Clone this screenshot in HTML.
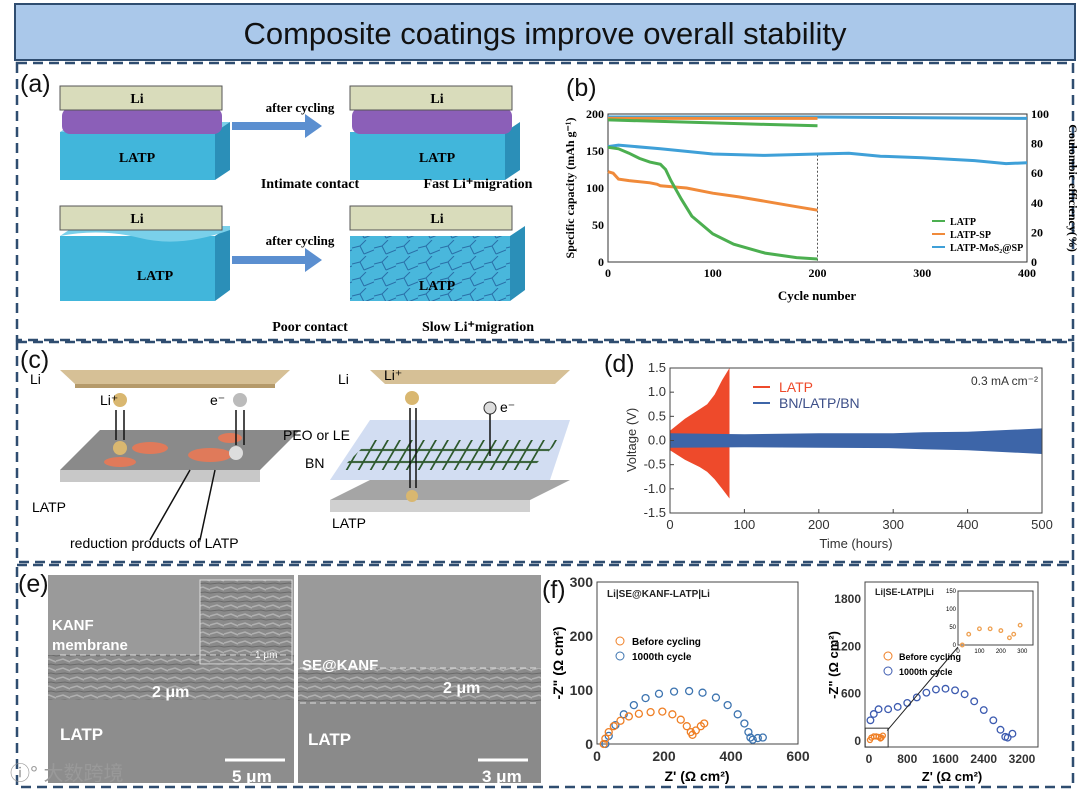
<!DOCTYPE html>
<html><head><meta charset="utf-8"><style>
body{margin:0;background:#fff;}
svg{display:block;font-family:"Liberation Sans",Arial,sans-serif;}
.serif{font-family:"Liberation Serif",serif;font-weight:bold;}
</style></head><body>
<svg id="fig" width="1080" height="790" viewBox="0 0 1080 790" xmlns="http://www.w3.org/2000/svg">
<defs>
<pattern id="sem" width="14" height="9" patternUnits="userSpaceOnUse"><rect width="14" height="9" fill="#8a8a8a"/><path d="M0 4 L7 2 L14 5" stroke="#b0b0b0" stroke-width="1.5" fill="none"/><path d="M0 8 L9 7 L14 8" stroke="#6a6a6a" stroke-width="1" fill="none"/></pattern>
<pattern id="crack" width="22" height="16" patternUnits="userSpaceOnUse"><rect width="22" height="16" fill="#49b7dc"/><path d="M0 8 L8 6 L12 14 M8 6 L14 0 M12 14 L22 10" stroke="#2a6fa8" stroke-width="1" fill="none"/></pattern>
<pattern id="mesh" width="12" height="12" patternUnits="userSpaceOnUse" patternTransform="skewX(-30)"><path d="M0 6 H12 M6 0 V12" stroke="#2e5a2e" stroke-width="2"/></pattern>
</defs>
<rect x="15" y="4" width="1060" height="56" fill="#aac8ea" stroke="#2f4d70" stroke-width="2"/>
<text x="545" y="44" font-size="31" text-anchor="middle" fill="#111">Composite coatings improve overall stability</text>
<g fill="none" stroke="#2f4d70" stroke-width="2.5" stroke-dasharray="10,6">
<rect x="17" y="63" width="1056" height="277"/>
<rect x="17" y="342" width="1056" height="220"/>
<rect x="17" y="565" width="1056" height="222"/>
</g>
<g font-size="25" fill="#111">
<text x="20" y="92">(a)</text>
<text x="566" y="96">(b)</text>
<text x="20" y="368">(c)</text>
<text x="604" y="372">(d)</text>
<text x="18" y="592">(e)</text>
<text x="542" y="598">(f)</text>
</g>

<g>
<rect x="60" y="132" width="155" height="48" fill="#41b6db"/><path d="M60 132 L75 122 L230 122 L215 132Z" fill="#7ad0ea"/><path d="M215 132 L230 122 L230 170 L215 180Z" fill="#2b8fb8"/>
<rect x="62" y="108" width="160" height="26" rx="8" fill="#8b5fb8"/>
<rect x="60" y="86" width="162" height="24" fill="#d9dcbb" stroke="#555"/>
<text x="137" y="103" font-size="14" class="serif" text-anchor="middle">Li</text>
<text x="137" y="162" font-size="14" class="serif" text-anchor="middle">LATP</text>
<rect x="350" y="132" width="155" height="48" fill="#41b6db"/><path d="M505 132 L520 122 L520 170 L505 180Z" fill="#2b8fb8"/>
<rect x="352" y="108" width="160" height="26" rx="8" fill="#8b5fb8"/>
<rect x="350" y="86" width="162" height="24" fill="#d9dcbb" stroke="#555"/>
<text x="437" y="103" font-size="14" class="serif" text-anchor="middle">Li</text>
<text x="437" y="162" font-size="14" class="serif" text-anchor="middle">LATP</text>
<path d="M232 122 H305 V114 L322 126 L305 138 V130 H232Z" fill="#5b8fd0"/>
<text x="300" y="112" font-size="13" class="serif" text-anchor="middle">after cycling</text>
<text x="310" y="188" font-size="14" class="serif" text-anchor="middle">Intimate contact</text>
<text x="478" y="188" font-size="14" class="serif" text-anchor="middle">Fast Li⁺migration</text>
<rect x="60" y="236" width="155" height="65" fill="#41b6db"/><path d="M215 236 L230 226 L230 290 L215 301Z" fill="#2b8fb8"/>
<path d="M60 236 Q100 228 140 238 T230 230 L230 226 L75 226Z" fill="#7ad0ea"/>
<rect x="60" y="206" width="162" height="24" fill="#d9dcbb" stroke="#555"/>
<text x="137" y="223" font-size="14" class="serif" text-anchor="middle">Li</text>
<text x="155" y="280" font-size="14" class="serif" text-anchor="middle">LATP</text>
<rect x="350" y="236" width="160" height="65" fill="url(#crack)"/><path d="M510 236 L525 226 L525 290 L510 301Z" fill="#2b8fb8"/>
<rect x="350" y="206" width="162" height="24" fill="#d9dcbb" stroke="#555"/>
<text x="437" y="223" font-size="14" class="serif" text-anchor="middle">Li</text>
<text x="437" y="290" font-size="14" class="serif" text-anchor="middle">LATP</text>
<path d="M232 256 H305 V248 L322 260 L305 272 V264 H232Z" fill="#5b8fd0"/>
<text x="300" y="245" font-size="13" class="serif" text-anchor="middle">after cycling</text>
<text x="310" y="331" font-size="14" class="serif" text-anchor="middle">Poor contact</text>
<text x="478" y="331" font-size="14" class="serif" text-anchor="middle">Slow Li⁺migration</text>
</g>

<g font-size="14">
<path d="M60 370 H290 L275 384 H75Z" fill="#d6c096"/><rect x="75" y="384" width="200" height="4" fill="#b59a6a"/>
<text x="30" y="384">Li</text>
<path d="M60 470 L100 430 H300 L260 470Z" fill="#8a8a8a"/><path d="M60 470 H260 L260 482 H60Z" fill="#c8c8c8"/>
<ellipse cx="150" cy="448" rx="18" ry="6" fill="#e07a5a"/><ellipse cx="210" cy="455" rx="22" ry="7" fill="#e07a5a"/><ellipse cx="230" cy="438" rx="12" ry="5" fill="#e07a5a"/><ellipse cx="120" cy="462" rx="16" ry="5" fill="#e07a5a"/>
<circle cx="120" cy="400" r="7" fill="#d9b770"/><circle cx="120" cy="448" r="7" fill="#d9b770"/><circle cx="240" cy="400" r="7" fill="#bbb"/><circle cx="236" cy="453" r="7" fill="#ddd"/>
<path d="M116 410 V440 M124 410 V440 M236 410 V445 M244 410 V445" stroke="#111" stroke-width="1.5"/>
<text x="100" y="405">Li⁺</text><text x="210" y="405">e⁻</text>
<text x="32" y="512">LATP</text>
<text x="70" y="548">reduction products of LATP</text>
<path d="M150 540 L190 470 M200 540 L215 470" stroke="#111" stroke-width="1.5"/>
<path d="M370 370 H570 L555 384 H385Z" fill="#d6c096"/><text x="338" y="384">Li</text>
<path d="M330 480 L370 420 H570 L550 480Z" fill="#c7d5ef" opacity="0.8"/>
<path d="M340 470 L370 440 H560 L530 470Z" fill="url(#mesh)"/>
<path d="M330 500 L370 480 H570 L530 500Z" fill="#a5a5a5"/><path d="M330 500 H530 V512 H330Z" fill="#d0d0d0"/>
<circle cx="412" cy="398" r="7" fill="#d9b770"/><circle cx="412" cy="496" r="6" fill="#d9b770"/><circle cx="490" cy="408" r="6" fill="#ddd" stroke="#333"/>
<path d="M410 408 V488 M416 408 V488 M490 414 V456" stroke="#111" stroke-width="1.5"/>
<text x="384" y="380">Li⁺</text><text x="500" y="412">e⁻</text>
<text x="283" y="440">PEO or LE</text><text x="305" y="468">BN</text><text x="332" y="528">LATP</text>
</g>

<g>
<rect x="48" y="575" width="246" height="208" fill="#7e7e7e"/>
<rect x="48" y="575" width="246" height="80" fill="#9a9a9a"/>
<rect x="48" y="655" width="246" height="45" fill="url(#sem)"/>
<rect x="48" y="700" width="246" height="83" fill="#8d8d8d"/>
<rect x="200" y="580" width="92" height="84" fill="url(#sem)" stroke="#ddd"/>
<text x="255" y="658" font-size="10" fill="#fff">1 μm</text>
<text x="52" y="630" font-size="15" font-weight="bold" fill="#fff">KANF</text>
<text x="52" y="650" font-size="15" font-weight="bold" fill="#fff">membrane</text>
<line x1="60" y1="655" x2="290" y2="655" stroke="#ddd" stroke-dasharray="6,4"/>
<text x="152" y="697" font-size="16" font-weight="bold" fill="#fff">2 μm</text>
<text x="60" y="740" font-size="17" font-weight="bold" fill="#fff">LATP</text>
<line x1="225" y1="760" x2="285" y2="760" stroke="#fff" stroke-width="3"/>
<text x="232" y="782" font-size="17" font-weight="bold" fill="#fff">5 μm</text>
<rect x="298" y="575" width="243" height="208" fill="#9a9a9a"/>
<rect x="298" y="668" width="243" height="35" fill="url(#sem)"/>
<rect x="298" y="703" width="243" height="80" fill="#8a8a8a"/>
<text x="302" y="670" font-size="15" font-weight="bold" fill="#fff">SE@KANF</text>
<line x1="300" y1="668" x2="540" y2="668" stroke="#ddd" stroke-dasharray="6,4"/>
<line x1="300" y1="703" x2="540" y2="703" stroke="#ddd" stroke-dasharray="6,4"/>
<text x="443" y="693" font-size="16" font-weight="bold" fill="#fff">2 μm</text>
<text x="308" y="745" font-size="17" font-weight="bold" fill="#fff">LATP</text>
<line x1="478" y1="760" x2="528" y2="760" stroke="#fff" stroke-width="3"/>
<text x="482" y="782" font-size="17" font-weight="bold" fill="#fff">3 μm</text>
</g>
<text x="10" y="780" font-size="20" fill="#999" font-family="'Liberation Sans','Noto Sans CJK SC',sans-serif">ⓘ° 大数跨境</text>

<g id="charts"></g>
</svg>
<script>
const bCycLATP=[0,10,20,30,40,50,55,60,70,80,100,120,150,180,200];
const bCapLATP=[155,153,147,140,135,132,125,110,85,62,38,24,12,6,4];
const bCycSP=[0,5,10,20,40,47,50,75,100,125,150,175,200];
const bCapSP=[122,120,112,110,107,105,103,100,93,88,82,76,70];
const bCycMo=[0,10,50,100,150,200,230,260,300,350,380,400];
const bCapMo=[156,158,153,146,144,146,147,143,141,137,133,134];
const bCECyc=[0,50,100,150,200];
const bCELATP=[96,95,94,93,92];
const bCESP=[97,97,97,97,97];
const bCEMoCyc=[0,100,200,300,400];
const bCEMo=[98,98,98,97.5,97];
const bXTicks=[0,100,200,300,400], bYTicks=[0,50,100,150,200], bY2Ticks=[0,20,40,60,80,100];
const dT=[0,20,40,50,60,70,80];
const dUp=[0.2,0.45,0.65,0.75,0.95,1.25,1.5];
const dLo=[-0.2,-0.4,-0.55,-0.65,-0.8,-1.0,-1.2];
const dTB=[0,100,200,300,340,400,500];
const dUpB=[0.15,0.13,0.15,0.15,0.17,0.18,0.25];
const dLoB=[-0.15,-0.14,-0.15,-0.16,-0.18,-0.2,-0.28];
const dXTicks=[0,100,200,300,400,500], dYTicks=[-1.5,-1.0,-0.5,0.0,0.5,1.0,1.5];
const f1BRe=[20,25,35,50,70,95,125,160,195,225,250,268,280,285,295,310,320];
const f1BIm=[0,10,22,33,43,51,56,59,60,55,45,33,22,17,25,33,38];
const f1ARe=[25,35,55,80,110,145,185,230,275,315,355,390,420,440,452,458,465,480,495];
const f1AIm=[0,15,35,55,72,85,93,97,98,95,86,72,55,38,22,12,8,11,12];
const f2BRe=[20,50,100,150,200,240,260,290];
const f2BIm=[0,30,45,45,40,20,30,55];
const f2ARe=[30,100,200,400,600,800,1000,1200,1400,1600,1800,2000,2200,2400,2600,2750,2850,2900,3000];
const f2AIm=[250,330,390,390,420,470,540,600,640,650,630,580,490,380,250,130,40,30,80];
const f1XTicks=[0,200,400,600], f1YTicks=[0,100,200,300];
const f2XTicks=[0,800,1600,2400,3200], f2YTicks=[0,600,1200,1800];
const f2InX=[0,100,200,300], f2InY=[0,50,100,150];

const NS="http://www.w3.org/2000/svg", root=document.getElementById('charts');
function mk(tag,attrs,parent,txt){const e=document.createElementNS(NS,tag);for(const k in attrs)e.setAttribute(k,attrs[k]);if(txt!==undefined)e.textContent=txt;(parent||root).appendChild(e);return e;}
function lin(d0,d1,r0,r1){return v=>r0+(v-d0)/(d1-d0)*(r1-r0);}
function pts(xs,ys,sx,sy){return xs.map((v,i)=>sx(v).toFixed(1)+','+sy(ys[i]).toFixed(1)).join(' ');}

(function(){
const g=mk('g',{});


const x=lin(0,400,608,1027), y=lin(0,200,262,114), y2=lin(0,100,262,114);
const fr=mk('rect',{x:608,y:114,width:419,height:148,fill:'none',stroke:'#333'},g);

const dl=mk('line',{x1:x(200),x2:x(200),y1:y(145),y2:262,stroke:'#555','stroke-dasharray':'2,2'},g);

bXTicks.forEach(v=>{const t=mk('text',{x:x(v),y:277,'font-size':12,'text-anchor':'middle',class:'serif'},g,v);});
bYTicks.forEach(v=>{const t=mk('text',{x:604,y:y(v)+4,'font-size':12,'text-anchor':'end',class:'serif'},g,v);});
bY2Ticks.forEach(v=>{const t=mk('text',{x:1031,y:y2(v)+4,'font-size':12,class:'serif'},g,v);});
const xt=mk('text',{x:817,y:300,'font-size':13,'text-anchor':'middle',class:'serif'},g,'Cycle number');

const yt=mk('text',{transform:'translate(574,188) rotate(-90)','font-size':12,'text-anchor':'middle',class:'serif'},g,'Specific capacity (mAh g⁻¹)');

const y2t=mk('text',{transform:'translate(1069,188) rotate(90)','font-size':12,'text-anchor':'middle',class:'serif'},g,'Coulombic efficiency(%)');

const series=[[bCEMoCyc,bCEMo,'#3fa0d8',y2,'ce-moS2'],[bCECyc,bCESP,'#f08a3a',y2,'ce-latp-sp'],[bCECyc,bCELATP,'#4caf50',y2,'ce-latp'],
[bCycMo,bCapMo,'#3fa0d8',y,'capacity-moS2'],[bCycSP,bCapSP,'#f08a3a',y,'capacity-latp-sp'],[bCycLATP,bCapLATP,'#4caf50',y,'capacity-latp']];
series.forEach(s=>{const l=mk('polyline',{points:pts(s[0],s[1],x,s[3]),fill:'none',stroke:s[2],'stroke-width':3},g);});
const leg=[['LATP','#4caf50'],['LATP-SP','#f08a3a'],['LATP-MoS₂@SP','#3fa0d8']];
leg.forEach((l,i)=>{const yy=221+i*13;mk('line',{x1:932,x2:945,y1:yy,y2:yy,stroke:l[1],'stroke-width':2},g);
const t=mk('text',{x:950,y:yy+4,'font-size':10,class:'serif'},g,l[0]);});
})();

(function(){
const g=mk('g',{});


const x=lin(0,500,670,1042), y=lin(-1.5,1.5,513,368);
const red=mk('polygon',{points:pts(dT.concat(dT.slice().reverse()),dUp.concat(dLo.slice().reverse()),x,y),fill:'#ee4a2b'},g);

const blue=mk('polygon',{points:pts(dTB.concat(dTB.slice().reverse()),dUpB.concat(dLoB.slice().reverse()),x,y),fill:'#3d65a8'},g);

mk('rect',{x:670,y:368,width:372,height:145,fill:'none',stroke:'#444'},g);
dXTicks.forEach(v=>{mk('line',{x1:x(v),x2:x(v),y1:513,y2:509,stroke:'#444'},g);const t=mk('text',{x:x(v),y:529,'font-size':13,'text-anchor':'middle',fill:'#333'},g,v);});
dYTicks.forEach(v=>{mk('line',{x1:670,x2:674,y1:y(v),y2:y(v),stroke:'#444'},g);const t=mk('text',{x:666,y:y(v)+4,'font-size':13,'text-anchor':'end',fill:'#333'},g,v.toFixed(1));});
const xt=mk('text',{x:856,y:548,'font-size':13,'text-anchor':'middle',fill:'#333'},g,'Time (hours)');
const yt=mk('text',{transform:'translate(636,440) rotate(-90)','font-size':13,'text-anchor':'middle',fill:'#333'},g,'Voltage (V)');
mk('line',{x1:753,x2:770,y1:387,y2:387,stroke:'#ee4a2b','stroke-width':2},g);
const l1=mk('text',{x:779,y:392,'font-size':14,fill:'#ee4a2b'},g,'LATP');
mk('line',{x1:753,x2:770,y1:403,y2:403,stroke:'#3d65a8','stroke-width':2},g);
const l2=mk('text',{x:779,y:408,'font-size':14,fill:'#3d4f88'},g,'BN/LATP/BN');
const an=mk('text',{x:1038,y:385,'font-size':12,'text-anchor':'end',fill:'#333'},g,'0.3 mA cm⁻²');
})();

function circles(g,xs,ys,sx,sy,col,r,name){xs.forEach((v,i)=>{const c=mk('circle',{cx:sx(v),cy:sy(ys[i]),r:r,fill:'none',stroke:col,'stroke-width':1.3},g);});}
(function(){
const g=mk('g',{});


const x=lin(0,600,597,798), y=lin(0,300,744,582);
mk('rect',{x:597,y:582,width:201,height:162,fill:'none',stroke:'#444'},g);
f1XTicks.forEach(v=>{const t=mk('text',{x:x(v),y:761,'font-size':14,'font-weight':'bold','text-anchor':'middle',fill:'#333'},g,v);});
f1YTicks.forEach(v=>{const t=mk('text',{x:593,y:y(v)+5,'font-size':14,'font-weight':'bold','text-anchor':'end',fill:'#333'},g,v);});
circles(g,f1ARe,f1AIm,x,y,'#3d74b0',3.5,'point-1000th-f1');
circles(g,f1BRe,f1BIm,x,y,'#ef7f25',3.5,'point-before-f1');
const t1=mk('text',{x:607,y:597,'font-size':10,'font-weight':'bold',fill:'#222'},g,'Li|SE@KANF-LATP|Li');
mk('circle',{cx:620,cy:641,r:4,fill:'none',stroke:'#ef7f25'},g);mk('circle',{cx:620,cy:656,r:4,fill:'none',stroke:'#3d74b0'},g);
const a=mk('text',{x:632,y:645,'font-size':10,'font-weight':'bold'},g,'Before cycling');
const b=mk('text',{x:632,y:660,'font-size':10,'font-weight':'bold'},g,'1000th cycle');
const xt=mk('text',{x:697,y:781,'font-size':14,'font-weight':'bold','text-anchor':'middle'},g,"Z' (Ω cm²)");
const yt=mk('text',{transform:'translate(563,663) rotate(-90)','font-size':14,'font-weight':'bold','text-anchor':'middle'},g,'-Z" (Ω cm²)');
})();
(function(){
const g=mk('g',{});


const x=lin(0,3200,869,1022), y=lin(0,1800,740,598);
mk('rect',{x:865,y:582,width:173,height:165,fill:'none',stroke:'#444'},g);
f2XTicks.forEach(v=>{const t=mk('text',{x:x(v),y:763,'font-size':12,'font-weight':'bold','text-anchor':'middle',fill:'#333'},g,v);});
f2YTicks.forEach(v=>{const t=mk('text',{x:861,y:y(v)+5,'font-size':12,'font-weight':'bold','text-anchor':'end',fill:'#333'},g,v);});
circles(g,f2ARe,f2AIm,x,y,'#3d5bb0',3.3,'point-1000th-f2');
circles(g,f2BRe,f2BIm,x,y,'#ef7f25',2.5,'point-before-f2');
mk('rect',{x:x(-80),y:y(150),width:x(400)-x(-80),height:y(-90)-y(150),fill:'none',stroke:'#333'},g);
mk('line',{x1:x(380),y1:y(120),x2:958,y2:647,stroke:'#222'},g);
const t1=mk('text',{x:875,y:595,'font-size':9,'font-weight':'bold',fill:'#222'},g,'Li|SE-LATP|Li');
mk('circle',{cx:888,cy:656,r:4,fill:'none',stroke:'#ef7f25'},g);mk('circle',{cx:888,cy:671,r:4,fill:'none',stroke:'#3d5bb0'},g);
const a=mk('text',{x:899,y:660,'font-size':9,'font-weight':'bold'},g,'Before cycling');
const b=mk('text',{x:899,y:675,'font-size':9,'font-weight':'bold'},g,'1000th cycle');
const xt=mk('text',{x:952,y:781,'font-size':13,'font-weight':'bold','text-anchor':'middle'},g,"Z' (Ω cm²)");
const yt=mk('text',{transform:'translate(838,665) rotate(-90)','font-size':13,'font-weight':'bold','text-anchor':'middle'},g,'-Z" (Ω cm²)');
const ix=lin(0,350,958,1033), iy=lin(0,150,645,591);
mk('rect',{x:958,y:591,width:75,height:54,fill:'#fff',stroke:'#444'},g);
circles(g,f2BRe,f2BIm,ix,iy,'#efa050',1.8,'point-before-inset');
f2InX.forEach(v=>{const t=mk('text',{x:ix(v),y:653,'font-size':6,'text-anchor':'middle'},g,v);});
f2InY.forEach(v=>{const t=mk('text',{x:956,y:iy(v)+2,'font-size':6,'text-anchor':'end'},g,v);});
})();
</script>
</body></html>
